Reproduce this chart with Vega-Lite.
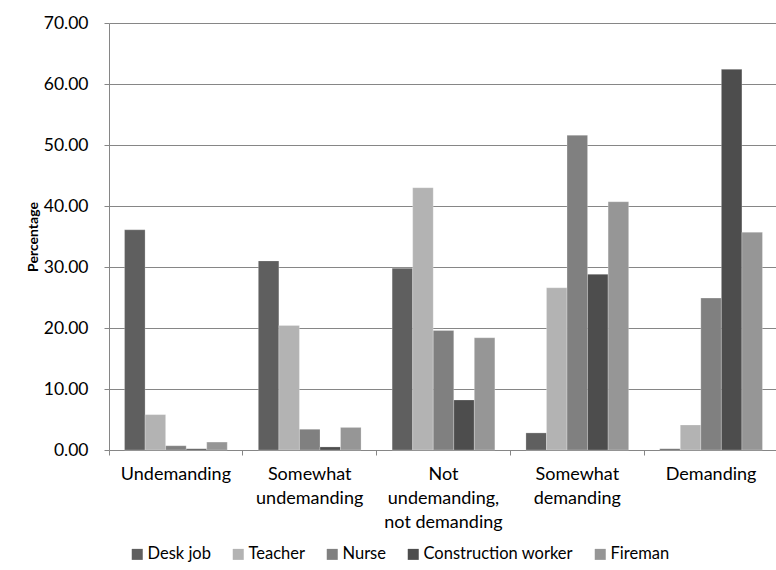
{
  "$schema": "https://vega.github.io/schema/vega-lite/v6.json",
  "width": 669,
  "height": 427,
  "padding": {"left": 26, "top": 14, "right": 0, "bottom": 5},
  "background": "white",
  "config": {
    "view": {"stroke": null},
    "font": "Lato"
  },
  "data": {
    "values": [
      {"cat": "Undemanding", "job": "Desk job", "value": 36.1},
      {"cat": "Undemanding", "job": "Teacher", "value": 5.8},
      {"cat": "Undemanding", "job": "Nurse", "value": 0.7},
      {"cat": "Undemanding", "job": "Construction worker", "value": 0.2},
      {"cat": "Undemanding", "job": "Fireman", "value": 1.3},
      {"cat": "Somewhat undemanding", "job": "Desk job", "value": 31.0},
      {"cat": "Somewhat undemanding", "job": "Teacher", "value": 20.4},
      {"cat": "Somewhat undemanding", "job": "Nurse", "value": 3.4},
      {"cat": "Somewhat undemanding", "job": "Construction worker", "value": 0.5},
      {"cat": "Somewhat undemanding", "job": "Fireman", "value": 3.7},
      {"cat": "Not undemanding, not demanding", "job": "Desk job", "value": 29.8},
      {"cat": "Not undemanding, not demanding", "job": "Teacher", "value": 43.0},
      {"cat": "Not undemanding, not demanding", "job": "Nurse", "value": 19.6},
      {"cat": "Not undemanding, not demanding", "job": "Construction worker", "value": 8.2},
      {"cat": "Not undemanding, not demanding", "job": "Fireman", "value": 18.4},
      {"cat": "Somewhat demanding", "job": "Desk job", "value": 2.8},
      {"cat": "Somewhat demanding", "job": "Teacher", "value": 26.6},
      {"cat": "Somewhat demanding", "job": "Nurse", "value": 51.6},
      {"cat": "Somewhat demanding", "job": "Construction worker", "value": 28.8},
      {"cat": "Somewhat demanding", "job": "Fireman", "value": 40.7},
      {"cat": "Demanding", "job": "Desk job", "value": 0.2},
      {"cat": "Demanding", "job": "Teacher", "value": 4.1},
      {"cat": "Demanding", "job": "Nurse", "value": 24.9},
      {"cat": "Demanding", "job": "Construction worker", "value": 62.4},
      {"cat": "Demanding", "job": "Fireman", "value": 35.7}
    ]
  },
  "mark": {"type": "bar", "stroke": "#ffffff", "strokeWidth": 0.4, "strokeOpacity": 0.6},
  "encoding": {
    "x": {
      "field": "cat",
      "type": "nominal",
      "sort": null,
      "scale": {"paddingInner": 0, "paddingOuter": 0},
      "axis": {
        "title": null,
        "labelAngle": 0,
        "bandPosition": 0,
        "labelExpr": "datum.value == 'Not undemanding, not demanding' ? ['Not', 'undemanding,', 'not demanding'] : split(datum.value, ' ')",
        "labelFontSize": 18,
        "labelColor": "#000000",
        "labelLineHeight": 24,
        "labelPadding": 10,
        "labelBaseline": "top",
        "tickSize": 5,
        "tickColor": "#868686",
        "domainColor": "#868686",
        "grid": false
      }
    },
    "xOffset": {
      "field": "job",
      "type": "nominal",
      "sort": ["Desk job", "Teacher", "Nurse", "Construction worker", "Fireman"],
      "scale": {"paddingInner": 0, "paddingOuter": 0.756}
    },
    "y": {
      "field": "value",
      "type": "quantitative",
      "scale": {"domain": [0, 70], "nice": false},
      "axis": {
        "title": "Percentage",
        "titleFontSize": 14,
        "titleFontWeight": "bold",
        "titleColor": "#000000",
        "titlePadding": 3,
        "values": [0, 10, 20, 30, 40, 50, 60, 70],
        "format": ".2f",
        "labelFontSize": 17.5,
        "labelColor": "#000000",
        "labelPadding": 16,
        "tickSize": 5,
        "tickColor": "#868686",
        "domainColor": "#868686",
        "gridColor": "#868686",
        "gridOpacity": 1
      }
    },
    "color": {
      "field": "job",
      "type": "nominal",
      "sort": ["Desk job", "Teacher", "Nurse", "Construction worker", "Fireman"],
      "scale": {
        "domain": ["Desk job", "Teacher", "Nurse", "Construction worker", "Fireman"],
        "range": ["#5f5f5f", "#b3b3b3", "#808080", "#4d4d4d", "#969696"]
      },
      "legend": {
        "title": null,
        "orient": "none",
        "legendX": 20,
        "legendY": 523,
        "direction": "horizontal",
        "symbolType": "square",
        "symbolSize": 121,
        "symbolStrokeWidth": 0,
        "labelFontSize": 16.5,
        "labelColor": "#000000",
        "labelOffset": 2,
        "columnPadding": 19
      }
    }
  }
}
